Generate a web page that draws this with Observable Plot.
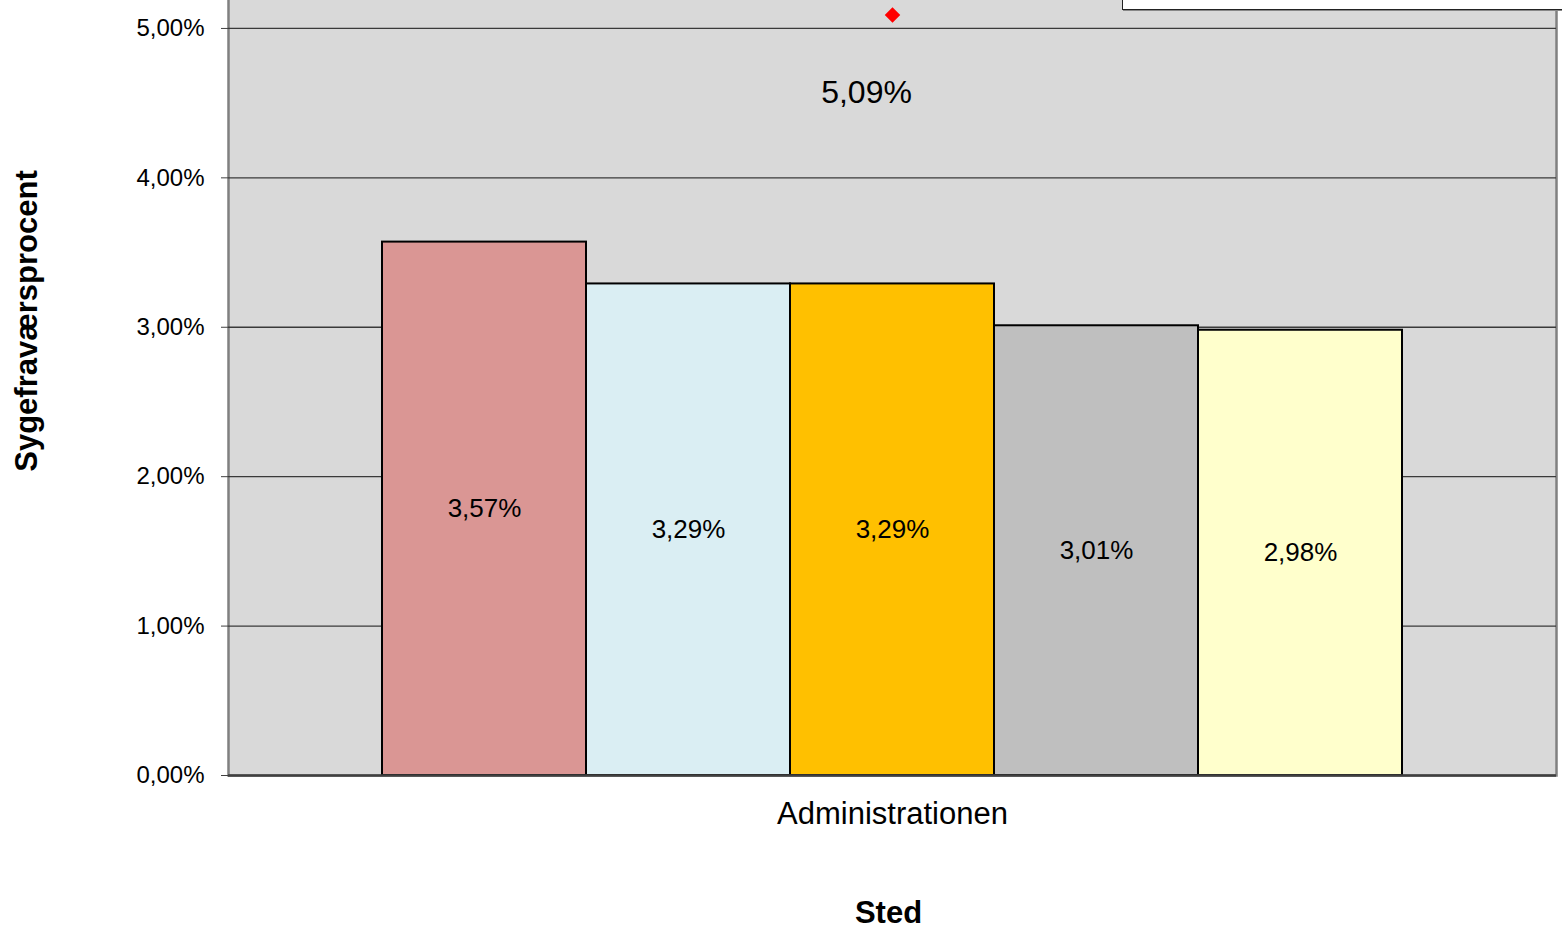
<!DOCTYPE html>
<html>
<head>
<meta charset="utf-8">
<script src="https://cdn.jsdelivr.net/npm/d3@7"></script>
<script src="https://cdn.jsdelivr.net/npm/@observablehq/plot@0.6"></script>
<style>
  html, body { margin: 0; padding: 0; background: #fff; overflow: hidden; }
  #wrap { position: relative; width: 1562px; height: 930px; }
  #legendbox { position: absolute; left: 1122px; top: -10px; width: 460px; height: 18px;
    background: #fff; border: 1.5px solid #222; box-shadow: 1px 1px 0 #888; }
</style>
</head>
<body>
<div id="wrap"><div id="legendbox"></div></div>
<script>
const category = "Administrationen";
const series = ["Serie 1", "Serie 2", "Serie 3", "Serie 4", "Serie 5"];
const values = [3.57, 3.29, 3.29, 3.01, 2.98];
const colors = ["#DA9694", "#DAEEF3", "#FFC000", "#BFBFBF", "#FFFFCC"];
const average = 5.09;
const yTicks = [0, 1, 2, 3, 4, 5];
const yTitle = "Sygefraværsprocent";
const xTitle = "Sted";

const fmt = v => v.toFixed(2).replace(".", ",") + "%";
const data = series.map((s, i) => ({series: s, value: values[i]}));

const chart = Plot.plot({
  width: 1562,
  height: 930,
  marginLeft: 228,
  marginRight: 6,
  marginTop: 0,
  marginBottom: 155,
  style: {fontFamily: "Arial, 'Liberation Sans', sans-serif", background: "transparent", color: "#000"},
  x: {type: "band", domain: series, range: [381, 1403], padding: 0, axis: null},
  y: {domain: [0, 5.187], axis: null},
  color: {domain: series, range: colors},
  marks: [
    Plot.frame({fill: "#D9D9D9", stroke: "#808080", strokeWidth: 2.5, insetTop: -5}),
    Plot.ruleY(yTicks.slice(1), {stroke: "#3a3a3a", strokeWidth: 1.3}),
    Plot.axisY(yTicks, {tickFormat: fmt, tickSize: 7, tickPadding: 17, fontSize: 24, stroke: "#404040", label: null}),
    Plot.barY(data, {x: "series", y: "value", fill: "series", stroke: "#000", strokeWidth: 2, inset: 0}),
    Plot.ruleY([0], {stroke: "#404040", strokeWidth: 2.5}),
    Plot.text(data, {x: "series", y: d => d.value / 2, text: d => fmt(d.value), fontSize: 26, fill: "#000"}),
    Plot.dot([average], {y: d => d, symbol: "diamond2", fill: "#FF0000", r: 7, stroke: "none"}),
    Plot.text([average], {y: d => d, text: d => fmt(d), fontSize: 32, dx: -26, dy: 78, fill: "#000"}),
    Plot.text([category], {frameAnchor: "bottom", text: d => d, fontSize: 31, dy: 39, lineAnchor: "middle", fill: "#000"}),
    Plot.text([xTitle], {frameAnchor: "bottom", text: d => d, fontSize: 31, fontWeight: "bold", dx: -4, dy: 138, lineAnchor: "middle", fill: "#000"}),
    Plot.text([yTitle], {frameAnchor: "left", textAnchor: "middle", text: d => d, fontSize: 31, fontWeight: "bold", rotate: -90, dx: -201, dy: -67, lineAnchor: "middle", fill: "#000"})
  ]
});
document.getElementById("wrap").prepend(chart);
</script>
</body>
</html>
